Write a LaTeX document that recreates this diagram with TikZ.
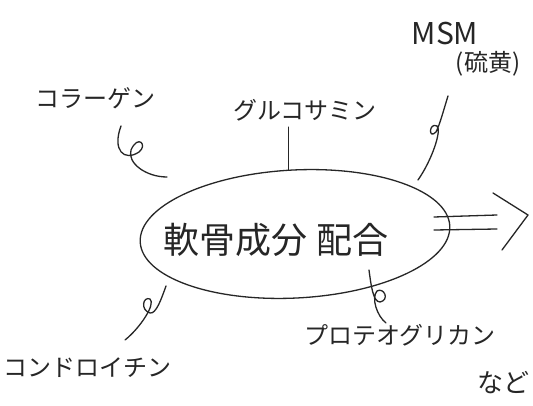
\documentclass[tikz,border=0pt]{standalone}
\usepackage{fontspec}
\newfontfamily\jp{Noto Sans CJK JP}
\usetikzlibrary{shapes.geometric}
\begin{document}
\begin{tikzpicture}[x=1pt,y=-1pt,
  pen/.style={draw=black!85, line width=1.3pt, line cap=round, line join=round},
  lbl/.style={font=\jp\fontsize{24}{26}\selectfont, text=black!85, inner sep=0pt},
  big/.style={font=\jp\fontsize{36}{38}\selectfont, text=black!85, inner sep=0pt}]
\useasboundingbox[fill=white] (0,0) rectangle (533,406);
% central ellipse
\node[ellipse, pen, minimum width=310pt, minimum height=128pt, rotate=3] (ell) at (295,234) {};
\node[big] (main) at (276,240) {軟骨成分\hspace{10pt}配合};
% labels
\node[lbl] (col) at (95,98) {コラーゲン};
\node[lbl] (glu) at (305,110) {グルコサミン};
\node[lbl, font=\jp\fontsize{30}{32}\selectfont] (msm) at (445,34) {MSM};
\node[lbl, font=\jp\fontsize{24}{26}\selectfont] (sul) at (488,64) {(硫黄)};
\node[lbl] (cho) at (88,368) {コンドロイチン};
\node[lbl] (pro) at (400,335) {プロテオグリカン};
\node[lbl, font=\jp\fontsize{26}{28}\selectfont] (nado) at (503,383) {など};
% connectors
\coordinate (ctop) at (ell.93);
\draw[pen] (glu.south -| ctop) ++(0,6) coordinate (g0) -- (g0 |- ctop);
\coordinate (c1) at (121,126);
\draw[pen] (c1) .. controls (112,150) and (124,162) .. (139,152)
  .. controls (148,145) and (138,134) .. (131,150)
  .. controls (127,163) and (146,177) .. (167,177);
\coordinate (m1) at (448,96);
\draw[pen] (m1) .. controls (443,112) and (440,124) .. (436,132)
  .. controls (428,140) and (429,122) .. (437,126)
  .. controls (442,130) and (432,160) .. (418,180);
\coordinate (h1) at (125,340);
\draw[pen] (166,286) .. controls (161,300) and (156,314) .. (150,313)
  .. controls (140,310) and (143,296) .. (150,299)
  .. controls (156,304) and (140,328) .. (h1);
\coordinate (p1) at (386,323);
\draw[pen] (369,270) .. controls (371,285) and (373,302) .. (380,302)
  .. controls (390,300) and (384,287) .. (377,291)
  .. controls (371,298) and (377,316) .. (p1);
% arrow
\coordinate (a1) at (434,217);
\coordinate (a2) at (434,230);
\draw[pen] (a1) -- (497,215);
\draw[pen] (a2) -- (497,229);
\draw[pen] (493,193) -- (528,215) -- (502,250);
\end{tikzpicture}
\end{document}
